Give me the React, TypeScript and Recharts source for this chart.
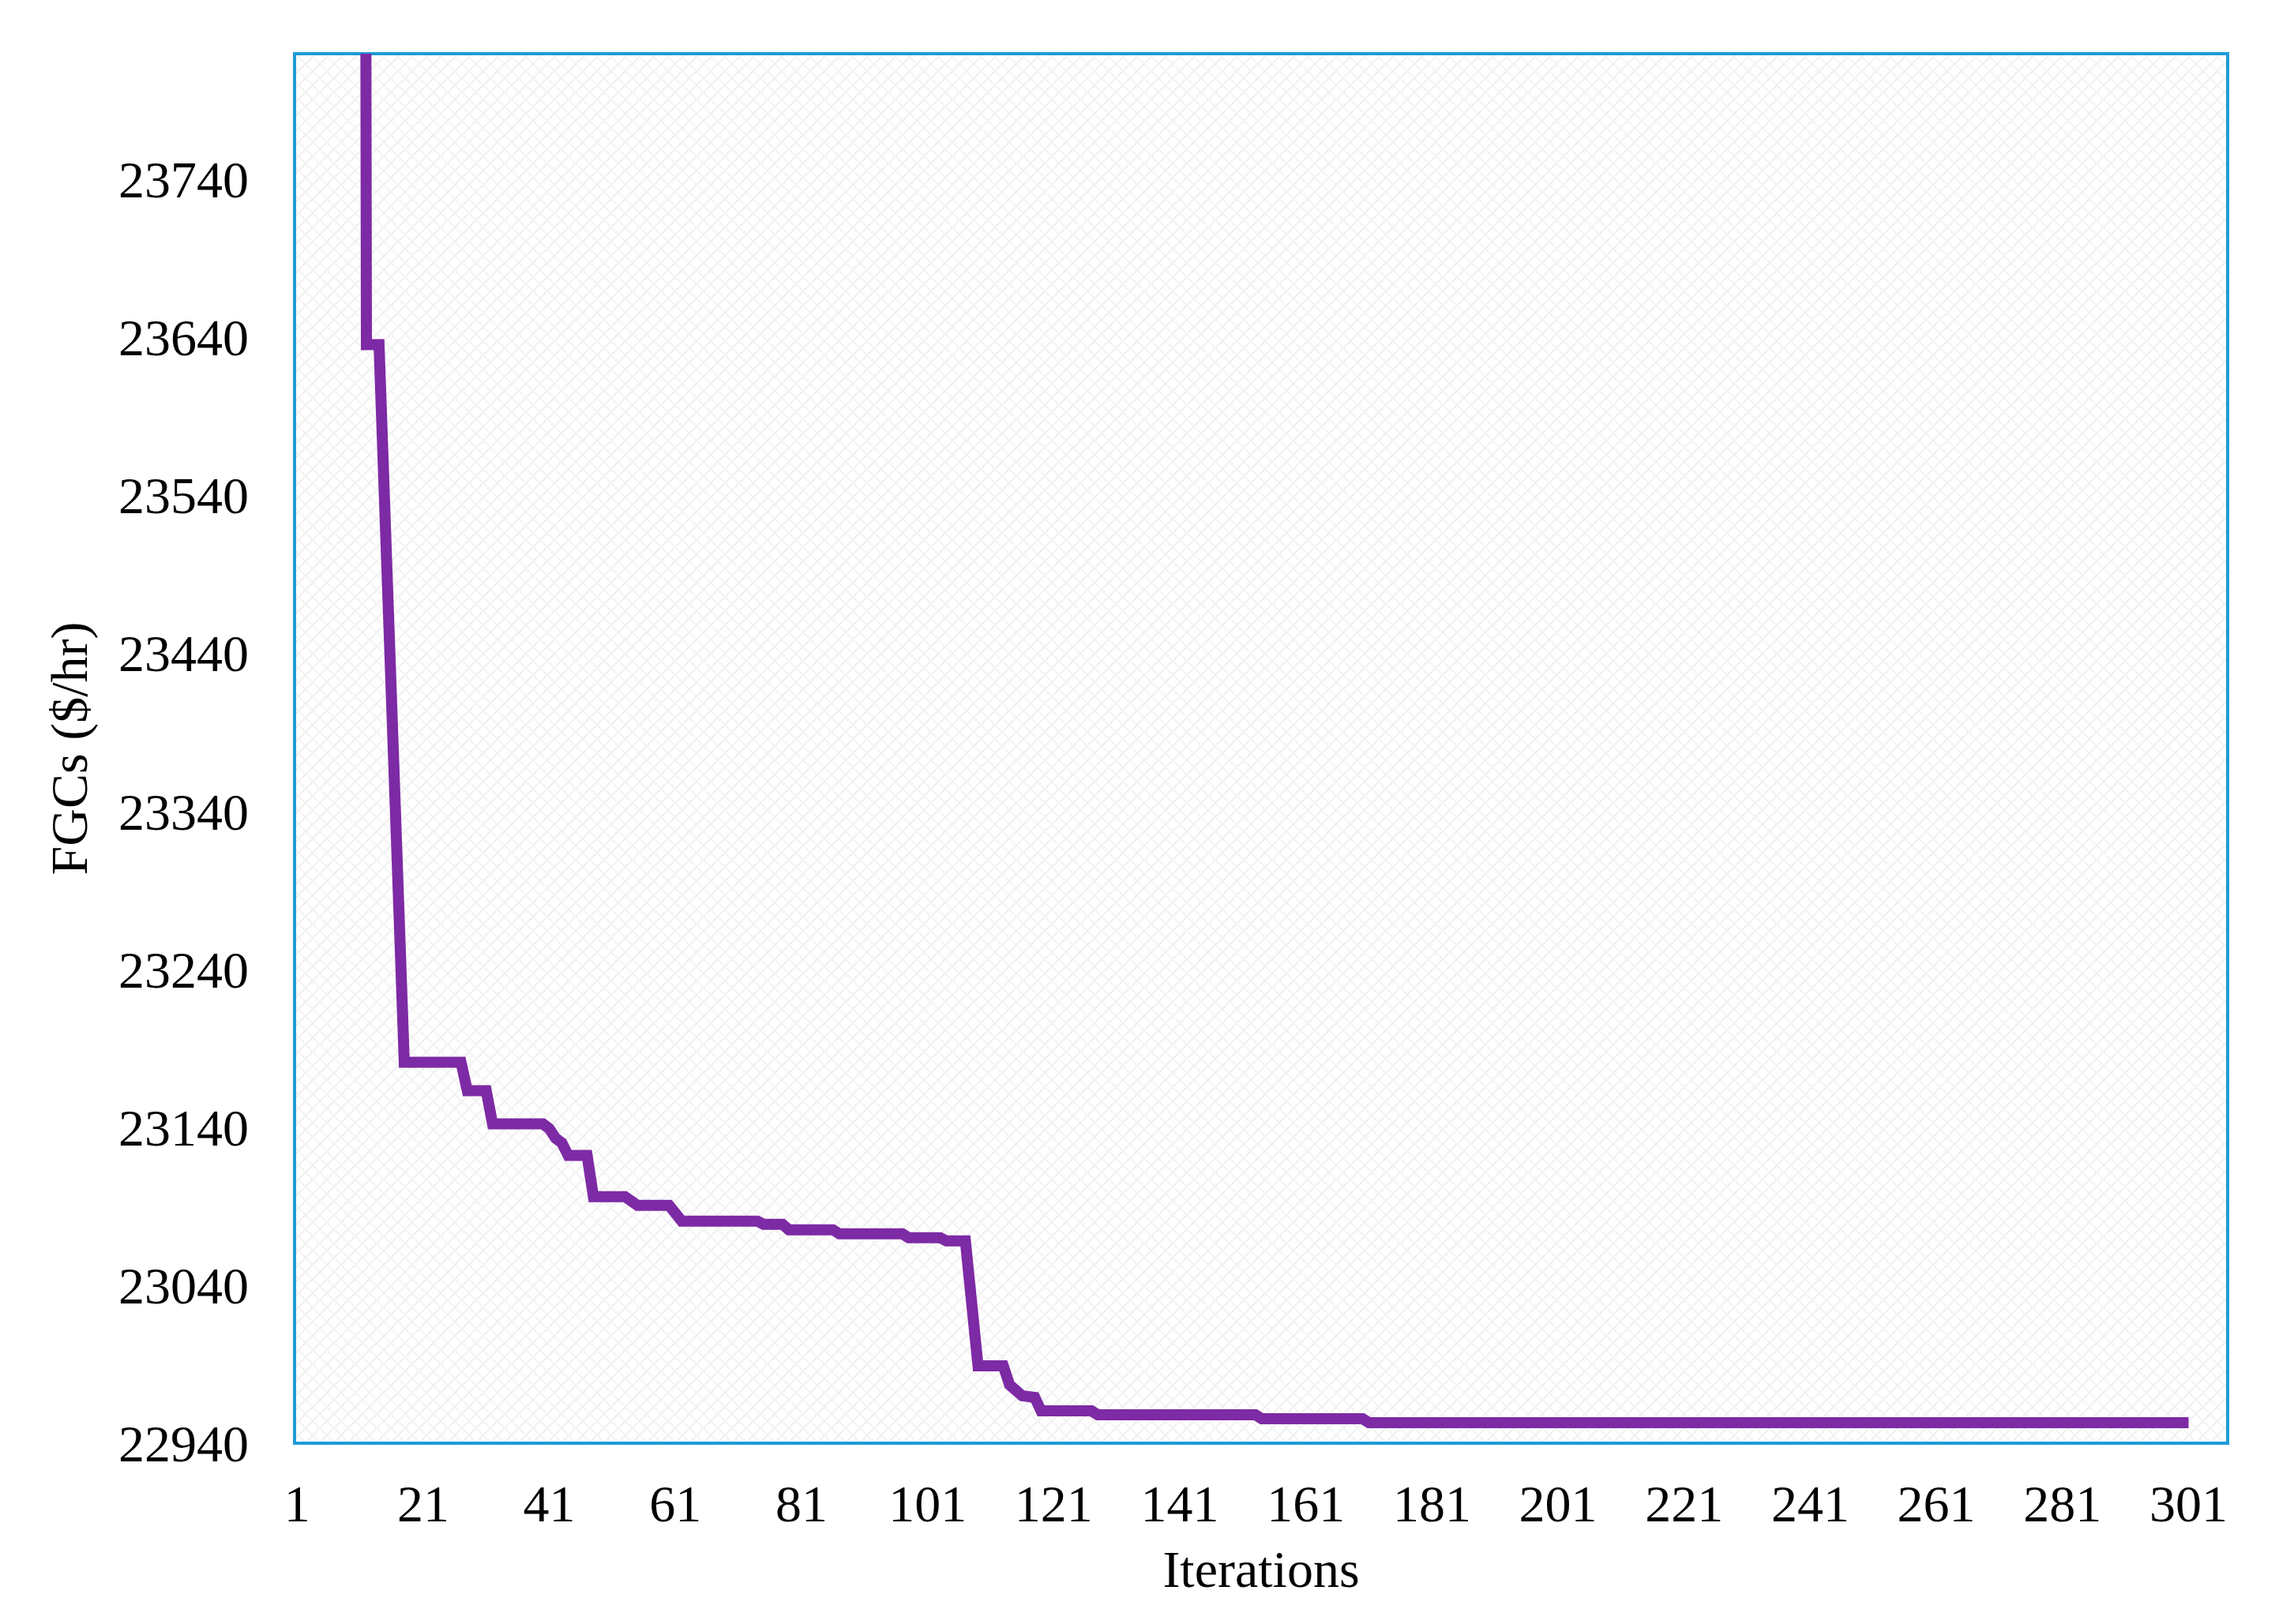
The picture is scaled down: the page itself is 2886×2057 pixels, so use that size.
import React from "react"
import {
  LineChart,
  Line,
  XAxis,
  YAxis,
  CartesianGrid,
  ReferenceArea
} from "recharts"

// corner points of the convergence curve (iteration, cost)
const iterations = [
  1, 4, 7, 11, 12, 14, 18, 27, 28, 31,
  32, 40, 41, 42, 43, 44, 47, 48, 53, 55,
  60, 62, 74, 75, 78, 79, 86, 87, 97, 98,
  103, 104, 107, 109, 113, 114, 116, 118, 119, 127,
  128, 153, 154, 170, 171, 301
]

const fgcValues = [
  29500, 27800, 26600, 25900, 23635, 23635, 23181, 23181, 23163, 23163,
  23142, 23142, 23139, 23133, 23130, 23122, 23122, 23096, 23096, 23090.5,
  23090.5, 23080.5, 23080.5, 23078.5, 23078.5, 23075, 23075, 23072.5, 23072.5, 23070,
  23070, 23068, 23068, 22989, 22989, 22977, 22970, 22969, 22960.5, 22960.5,
  22958, 22958, 22955.5, 22955.5, 22953, 22953
]

const xTicks = [1, 21, 41, 61, 81, 101, 121, 141, 161, 181, 201, 221, 241, 261, 281, 301]
const yTicks = [22940, 23040, 23140, 23240, 23340, 23440, 23540, 23640, 23740]

const X_DOMAIN: [number, number] = [0.6, 307.2]
const Y_DOMAIN: [number, number] = [22940, 23819]

const FONT = '"Liberation Serif", "Times New Roman", serif'
const BORDER = '#1f9bd8'
const LINE_COLOR = '#7d2aa5'

const tickStyle = { fontSize: 66, fill: '#000', fontFamily: FONT }

const XTitle = (props: any) => {
  const { viewBox } = props
  const cx = viewBox.x + viewBox.width / 2
  return (
    <text x={cx} y={viewBox.y + 182} textAnchor="middle" fontSize={66} fontFamily={FONT} fill="#000">
      Iterations
    </text>
  )
}

const YTitle = (props: any) => {
  const { viewBox } = props
  const cx = viewBox.x + 87
  const cy = viewBox.y + viewBox.height / 2
  return (
    <text
      x={cx}
      y={cy}
      transform={`rotate(-90, ${cx}, ${cy})`}
      textAnchor="middle"
      dominantBaseline="central"
      fontSize={66}
      fontFamily={FONT}
      fill="#000"
    >
      FGCs ($/hr)
    </text>
  )
}

export default function App() {
  const data = iterations.map((it, i) => ({ iteration: it, fgc: fgcValues[i] }))

  return (
    <div style={{ position: 'absolute', left: 0, top: 0, background: '#fff' }}>
      <LineChart
        width={2886}
        height={2057}
        data={data}
        margin={{ top: 68, right: 65, bottom: 0, left: 0 }}
      >
        <defs>
          <pattern id="hatch" width="18" height="18" patternUnits="userSpaceOnUse">
            <rect width="18" height="18" fill="#ffffff" />
            <path d="M0,18 L18,0 M-4,4 L4,-4 M14,22 L22,14" stroke="#f0f0f0" strokeWidth="2" />
            <path d="M0,0 L18,18 M-4,14 L4,22 M14,-4 L22,4" stroke="#f4f4f4" strokeWidth="2" />
          </pattern>
        </defs>
        <CartesianGrid horizontal={false} vertical={false} fill="url(#hatch)" />
        <XAxis
          dataKey="iteration"
          type="number"
          domain={X_DOMAIN}
          ticks={xTicks}
          interval={0}
          allowDataOverflow
          height={229}
          tickLine={false}
          tickSize={0}
          tickMargin={52}
          tick={tickStyle}
          axisLine={{ stroke: BORDER, strokeWidth: 4 }}
          label={<XTitle />}
        />
        <YAxis
          type="number"
          domain={Y_DOMAIN}
          ticks={yTicks}
          interval={0}
          allowDataOverflow
          width={373}
          tickLine={false}
          tickSize={0}
          tickMargin={58}
          tick={tickStyle}
          axisLine={{ stroke: BORDER, strokeWidth: 4 }}
          label={<YTitle />}
        />
        <Line
          type="linear"
          dataKey="fgc"
          stroke={LINE_COLOR}
          strokeWidth={14}
          strokeLinejoin="miter"
          dot={false}
          activeDot={false}
          isAnimationActive={false}
        />
        {/* plot frame */}
        <ReferenceArea
          x1={X_DOMAIN[0]}
          x2={X_DOMAIN[1]}
          y1={Y_DOMAIN[0]}
          y2={Y_DOMAIN[1]}
          fill="none"
          fillOpacity={0}
          stroke={BORDER}
          strokeWidth={4}
          strokeOpacity={1}
          ifOverflow="visible"
        />
      </LineChart>
    </div>
  )
}
